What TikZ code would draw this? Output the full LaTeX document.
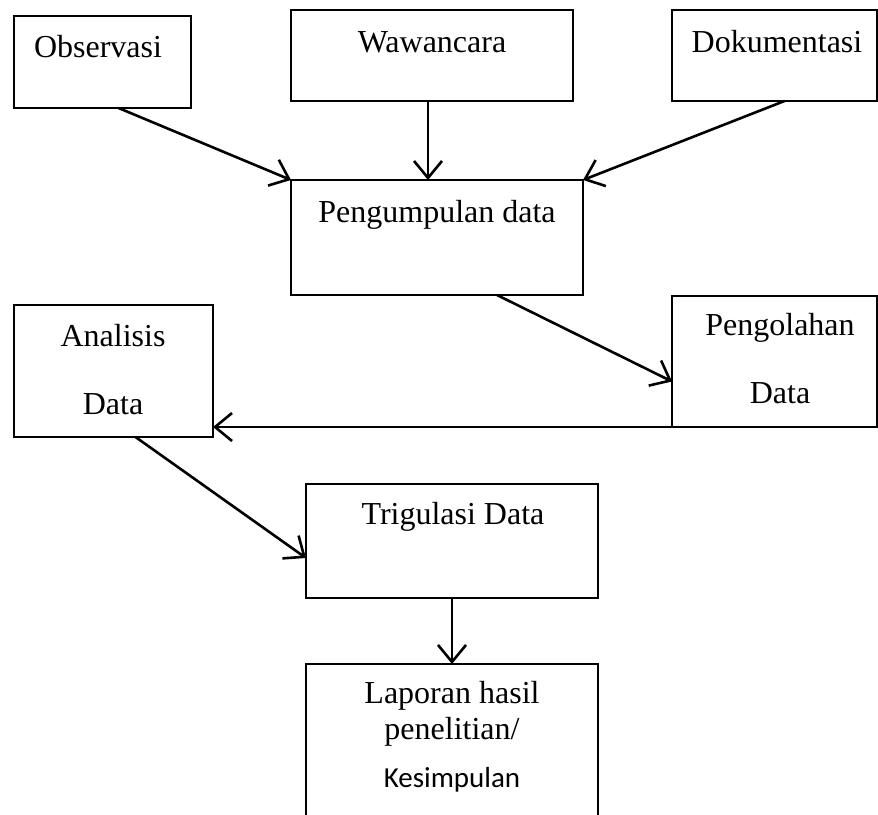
\documentclass[tikz,border=0pt]{standalone}
\usepackage{fontspec}
\setmainfont{Liberation Serif}
\newfontfamily\kesfont{Carlito}
\usepackage{tikz}
\usetikzlibrary{arrows.meta}

\tikzset{
  kotak/.style={draw, line width=1.3pt, anchor=north west, inner sep=0pt, outer sep=0pt},
  teks/.style={anchor=base, inner sep=0pt, font=\fontsize{32}{38}\selectfont},
  panah/.style={line width=2.6pt, -{Straight Barb[length=17pt,width=28pt,line width=2.6pt]}}
}

\begin{document}
\begin{tikzpicture}[x=1pt, y=-1pt]
\useasboundingbox (0,0) rectangle (878,814);
% kotak-kotak
\node[kotak, minimum width=177pt, minimum height=92pt] (Obs) at (14,16) {};
\node[kotak, minimum width=282pt, minimum height=91pt] (Waw) at (291,10) {};
\node[kotak, minimum width=205pt, minimum height=91pt] (Dok) at (672,10) {};
\node[kotak, minimum width=292pt, minimum height=115pt] (Kumpul) at (291,180) {};
\node[kotak, minimum width=205pt, minimum height=131pt] (Olah) at (672,296) {};
\node[kotak, minimum width=199pt, minimum height=132pt] (Analisis) at (14,305) {};
\node[kotak, minimum width=292pt, minimum height=114pt] (Trig) at (306,484) {};
\node[kotak, draw=none, minimum width=292pt, minimum height=152pt] (Lapor) at (306,664) {};
\draw[line width=1.3pt] (Lapor.south west) -- (Lapor.north west) -- (Lapor.north east) -- (Lapor.south east);
% tulisan
\node[teks] (LObs) at (98,57) {Observasi};
\node[teks] (LWaw) at (432,52) {Wawancara};
\node[teks] (LDok) at (777,52) {Dokumentasi};
\node[teks] (LKumpul) at (437,222) {Pengumpulan data};
\node[teks] (LOlah1) at (780,335) {Pengolahan};
\node[teks] (LOlah2) at (780,403) {Data};
\node[teks] (LAnalisis1) at (113,346) {Analisis};
\node[teks] (LAnalisis2) at (113,414) {Data};
\node[teks] (LTrig) at (453,524) {Trigulasi Data};
\node[teks] (LLapor1) at (452,703) {Laporan hasil};
\node[teks] (LLapor2) at (452,739) {penelitian/};
\node[teks, font=\kesfont\fontsize{29}{34}\selectfont] (LLapor3) at (452,787) {Kesimpulan};
% panah
\draw[panah] ([xshift=16pt]Obs.south) -- (Kumpul.north west);
\draw[panah] ([xshift=-4pt]Waw.south) -- ([xshift=-4pt]Waw.south |- Kumpul.north);
\draw[panah] ([xshift=10pt]Dok.south) -- (Kumpul.north east);
\draw[panah] ([xshift=60pt]Kumpul.south) -- ([yshift=-20pt]Olah.west);
\draw[panah] (Olah.south west) -- (Olah.south west -| Analisis.east);
\draw[panah] ([xshift=22pt]Analisis.south) -- ([yshift=-17pt]Trig.west);
\draw[panah] (Trig.south) -- (Lapor.north);
\end{tikzpicture}
\end{document}
